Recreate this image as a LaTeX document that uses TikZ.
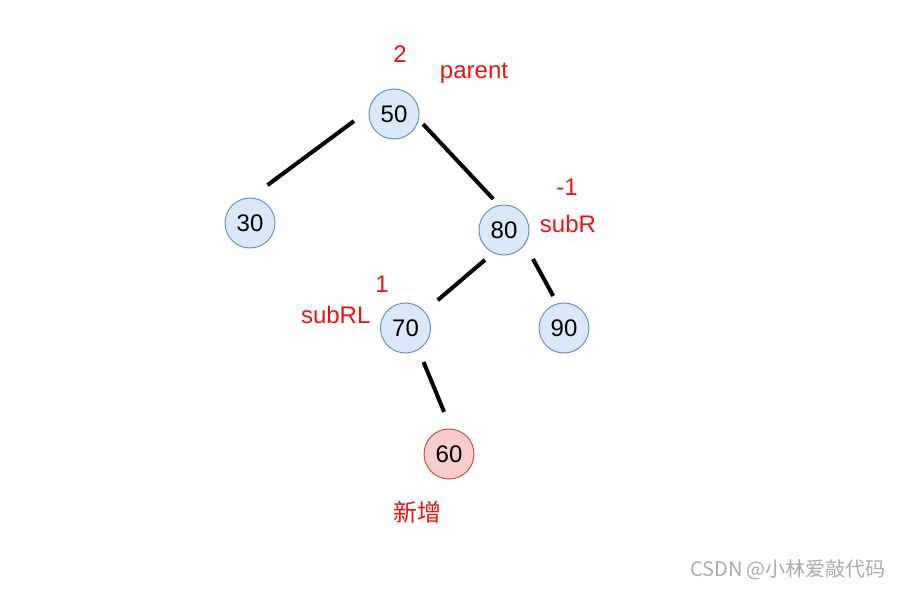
\documentclass[tikz,border=0pt]{standalone}
\usepackage{fontspec}
\setmainfont{Liberation Sans}
\newfontfamily\cjk{Noto Sans CJK SC}
\definecolor{B}{RGB}{218, 232, 252}
\definecolor{BB}{RGB}{108, 142, 191}
\definecolor{P}{RGB}{248, 206, 204}
\definecolor{PB}{RGB}{184, 84, 80}
\definecolor{R}{RGB}{230, 20, 20}
\definecolor{W}{RGB}{170, 170, 170}

\begin{document}
\begin{tikzpicture}[x=0.5pt, y=-0.5pt,
  key/.style={circle, draw=BB, fill=B, line width=0.5pt, minimum size=25pt,
    inner sep=0pt, outer sep=0pt, font=\fontsize{12}{14}\selectfont},
  newkey/.style={key, draw=PB, fill=P},
  lbl/.style={text=R, inner sep=0pt, font=\fontsize{12}{14}\selectfont},
  edge/.style={black, line width=2pt}]
  \useasboundingbox (0,0) rectangle (898,589);
  % tree
  \node[key] (n50) at (394,114) {50};
  \node[key] (n30) at (250,223) {30};
  \node[key] (n80) at (504,230) {80};
  \node[key] (n70) at (405.5,328) {70};
  \node[key] (n90) at (564,328) {90};
  \node[newkey] (n60) at (449,454) {60};
  \draw[edge, shorten <=9.6pt, shorten >=10.9pt] (n50.170) -- (n30.north);
  \draw[edge, shorten <=3.4pt, shorten >=4.4pt] (n50.348) -- (n80.101);
  \draw[edge, shorten <=5.6pt, shorten >=8.8pt] (n80.245) -- (n70.41);
  \draw[edge, shorten <=8.6pt, shorten >=4.5pt] (n80.326) -- (n90.105);
  \draw[edge, shorten <=6.8pt, shorten >=9.3pt] (n70.301) -- (n60.85);
  % labels
  \node[lbl] (bf50) at (400,54.5) {2};
  \node[lbl] (parent) at (474,73) {parent};
  \node[lbl] (bf80) at (567,187) {-1};
  \node[lbl] (subR) at (568,223.5) {subR};
  \node[lbl] (bf70) at (382,284.5) {1};
  \node[lbl] (subRL) at (335.7,315) {subRL};
  \node[lbl, font=\cjk\fontsize{12}{14}\selectfont] (added) at (417,512.5) {新增};
  \node[text=W, inner sep=0pt, font=\cjk\fontsize{10}{12}\selectfont] (mark) at (788,570) {CSDN @小林爱敲代码};
\end{tikzpicture}
\end{document}
